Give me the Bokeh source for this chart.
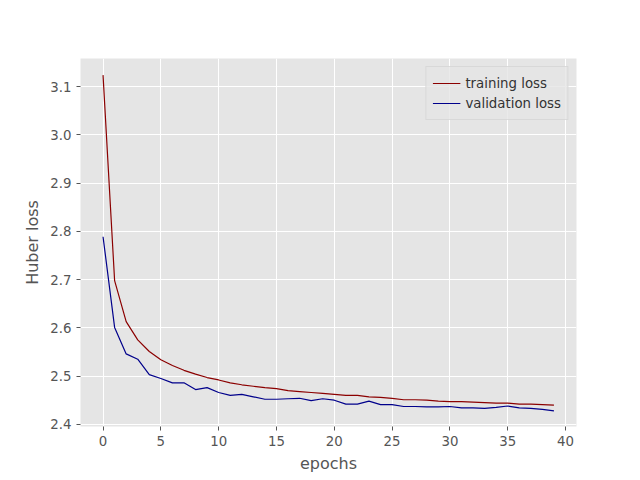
from bokeh.plotting import figure
from bokeh.models import Legend, LegendItem, FixedTicker, Range1d
from bokeh.embed import file_html
from bokeh.resources import INLINE

epochs = list(range(40))
train_loss = [3.124, 2.698, 2.613, 2.575, 2.551, 2.534, 2.522, 2.512, 2.504, 2.497,
              2.492, 2.486, 2.482, 2.479, 2.476, 2.474, 2.470, 2.468, 2.466, 2.464,
              2.462, 2.460, 2.460, 2.457, 2.456, 2.454, 2.451, 2.451, 2.450, 2.448,
              2.447, 2.447, 2.446, 2.445, 2.444, 2.444, 2.442, 2.442, 2.441, 2.440]
val_loss = [2.789, 2.601, 2.546, 2.535, 2.503, 2.495, 2.486, 2.486, 2.472, 2.476,
            2.466, 2.460, 2.462, 2.457, 2.452, 2.452, 2.453, 2.454, 2.449, 2.453,
            2.450, 2.442, 2.442, 2.448, 2.441, 2.441, 2.437, 2.437, 2.436, 2.436,
            2.437, 2.434, 2.434, 2.433, 2.435, 2.438, 2.434, 2.433, 2.431, 2.428]
y_ticks = [2.4, 2.5, 2.6, 2.7, 2.8, 2.9, 3.0, 3.1]

p = figure(width=624, height=475, output_backend="svg", toolbar_location=None,
           x_range=Range1d(-1.95, 40.95), y_range=Range1d(2.3955, 3.1585),
           x_axis_label="epochs", y_axis_label="Huber loss")
p.min_border_left = 80
p.min_border_right = 48
p.min_border_top = 58
p.min_border_bottom = 48
p.background_fill_color = "#e5e5e5"
p.border_fill_color = "white"
p.outline_line_color = None
p.grid.grid_line_color = "white"
p.grid.grid_line_width = 1
p.xaxis.ticker = FixedTicker(ticks=[0, 5, 10, 15, 20, 25, 30, 35, 40])
p.yaxis.ticker = FixedTicker(ticks=y_ticks)
p.yaxis.major_label_overrides = {t: "%.1f" % t for t in y_ticks}
for ax in (p.xaxis, p.yaxis):
    ax.axis_line_color = None
    ax.major_tick_line_color = "#555555"
    ax.major_tick_out = 4
    ax.major_tick_in = 0
    ax.minor_tick_line_color = None
    ax.major_label_text_color = "#555555"
    ax.major_label_text_font = "DejaVu Sans"
    ax.major_label_text_font_size = "10pt"
    ax.axis_label_text_color = "#555555"
    ax.axis_label_text_font = "DejaVu Sans"
    ax.axis_label_text_font_size = "12pt"
    ax.axis_label_text_font_style = "normal"

l1 = p.line(epochs, train_loss, color="#8b0000", line_width=1.2)
l2 = p.line(epochs, val_loss, color="#00008b", line_width=1.2)

legend = Legend(items=[LegendItem(label="training loss", renderers=[l1]),
                       LegendItem(label="validation loss", renderers=[l2])],
                location="top_right", background_fill_color="#e5e5e5",
                background_fill_alpha=0.8, border_line_color="#cccccc",
                label_text_font="DejaVu Sans", label_text_font_size="10pt",
                label_text_color="#333333", glyph_width=28, spacing=0,
                padding=6, margin=8)
p.add_layout(legend)

open("out.html", "w").write(file_html(p, INLINE))
